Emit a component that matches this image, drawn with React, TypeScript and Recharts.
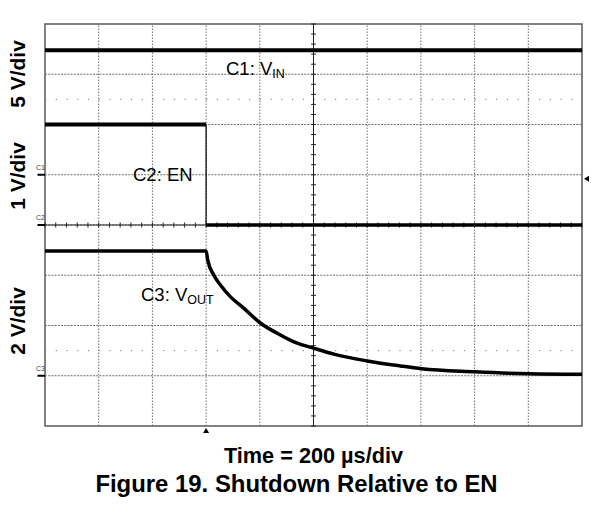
import React from "react";
import {
  LineChart,
  Line,
  XAxis,
  YAxis,
  ReferenceLine,
  ReferenceArea,
  ReferenceDot,
} from "recharts";

// Time axis: 200 µs/div, trigger at t = 0
const timeTicks = [-600, -400, -200, 0, 200, 400, 600, 800, 1000, 1200, 1400];
const gridRows = [0, 1, 2, 3, 4, 5, 6, 7, 8];
const sparseRows = [1.5, 6.5];

// C1: VIN (5 V/div)
const c1Time = [-600, 1400];
const c1Volts = [12.4, 12.4];

// C2: EN (1 V/div)
const c2Time = [-600, 0, 0, 1400];
const c2Volts = [2.0, 2.0, 0, 0];

// C3: VOUT (2 V/div)
const c3Time = [-600, 0, 6, 29, 54, 91, 141, 203, 265, 327, 403, 476, 600, 724, 803, 1001, 1203, 1400];
const c3Volts = [4.97, 4.97, 4.6, 4.0, 3.6, 3.14, 2.68, 2.09, 1.69, 1.35, 1.09, 0.86, 0.59, 0.39, 0.28, 0.16, 0.08, 0.06];

const toRows = (t: number[], v: number[]) => t.map((x, i) => ({ t: x, v: v[i] }));

const c1Data = toRows(c1Time, c1Volts);
const c2All = toRows(c2Time, c2Volts);
const c2High = c2All.slice(0, 2);
const c2Edge = c2All.slice(1, 3);
const c2Low = c2All.slice(2, 4);
const c3Data = toRows(c3Time, c3Volts);

// minor tick positions on the centre crosshair (0.2 div)
const minorT: number[] = [];
for (let k = 0; k <= 50; k++) minorT.push(-600 + 40 * k);
const minorY: number[] = [];
for (let k = 0; k <= 40; k++) minorY.push(0.2 * k);

const FONT = "'Liberation Sans', Arial, Helvetica, sans-serif";
const GRID = "#6e6e6e";

const chanMarker = (label: string) => (props: any) => {
  const { cx, cy } = props;
  if (cx == null || cy == null) return <g />;
  return (
    <g>
      <line x1={cx - 7.5} x2={cx} y1={cy} y2={cy} stroke="#000" strokeWidth={2} />
      <text x={cx - 9} y={cy - 5} fontSize={7} fontFamily={FONT} fill="#444">
        {label}
      </text>
    </g>
  );
};

const trigBottom = (props: any) => {
  const { cx, cy } = props;
  if (cx == null || cy == null) return <g />;
  return <path d={`M ${cx - 3} ${cy + 7} L ${cx + 3} ${cy + 7} L ${cx} ${cy + 2} Z`} fill="#000" />;
};

const trigRight = (props: any) => {
  const { cx, cy } = props;
  if (cx == null || cy == null) return <g />;
  return <path d={`M ${cx + 7} ${cy - 3} L ${cx + 7} ${cy + 3} L ${cx + 2} ${cy} Z`} fill="#000" />;
};

export default function App() {
  return (
    <div style={{ position: "absolute", left: 0, top: 0, width: 608, height: 517, background: "#fff" }}>
      <LineChart
        width={608}
        height={517}
        margin={{ top: 24, left: 45, right: 26, bottom: 91 }}
      >
        <XAxis type="number" dataKey="t" domain={[-600, 1400]} hide allowDataOverflow />
        <YAxis yAxisId="g" type="number" domain={[0, 8]} hide allowDataOverflow />
        <YAxis yAxisId="c1" type="number" domain={[-25, 15]} hide allowDataOverflow />
        <YAxis yAxisId="c2" type="number" domain={[-4, 4]} hide allowDataOverflow />
        <YAxis yAxisId="c3" type="number" domain={[-2, 14]} hide allowDataOverflow />

        {timeTicks.slice(1, -1).map((t) => (
          <ReferenceLine key={"vx" + t} x={t} yAxisId="g" stroke={GRID} strokeWidth={1} strokeDasharray="1.5 1.5" />
        ))}
        {gridRows.slice(1, -1).map((r) => (
          <ReferenceLine key={"hy" + r} y={r} yAxisId="g" stroke={GRID} strokeWidth={1} strokeDasharray="2 1.2" />
        ))}
        {sparseRows.map((r) => (
          <ReferenceLine key={"sp" + r} y={r} yAxisId="g" stroke="#777" strokeWidth={1} strokeDasharray="1.2 9.54" />
        ))}

        {/* centre crosshair */}
        <ReferenceLine x={400} yAxisId="g" stroke="#222" strokeWidth={1} />
        <ReferenceLine y={4} yAxisId="g" stroke="#222" strokeWidth={1} />
        {minorY.map((y) => (
          <ReferenceLine
            key={"my" + y}
            yAxisId="g"
            segment={[{ x: 391, y }, { x: 409, y }]}
            stroke="#222"
            strokeWidth={1}
            ifOverflow="visible"
          />
        ))}
        {minorT.map((t) => (
          <ReferenceLine
            key={"mt" + t}
            yAxisId="g"
            segment={[{ x: t, y: 3.95 }, { x: t, y: 4.05 }]}
            stroke="#222"
            strokeWidth={1}
            ifOverflow="visible"
          />
        ))}

        <ReferenceArea
          x1={-600}
          x2={1400}
          y1={0}
          y2={8}
          yAxisId="g"
          fill="none"
          fillOpacity={0}
          stroke="#5a5a5a"
          strokeWidth={1.5}
          ifOverflow="visible"
        />

        <Line yAxisId="c1" data={c1Data} dataKey="v" type="linear" stroke="#000" strokeWidth={4} dot={false} isAnimationActive={false} />
        <Line yAxisId="c2" data={c2High} dataKey="v" type="linear" stroke="#000" strokeWidth={4} dot={false} isAnimationActive={false} />
        <Line yAxisId="c2" data={c2Edge} dataKey="v" type="linear" stroke="#000" strokeWidth={1.2} dot={false} isAnimationActive={false} />
        <Line yAxisId="c2" data={c2Low} dataKey="v" type="linear" stroke="#000" strokeWidth={3.5} dot={false} isAnimationActive={false} />
        <Line yAxisId="c3" data={c3Data} dataKey="v" type="monotone" stroke="#000" strokeWidth={3.5} dot={false} isAnimationActive={false} />

        <ReferenceDot x={-600} y={0} yAxisId="c1" r={0} ifOverflow="visible" shape={chanMarker("C1")} />
        <ReferenceDot x={-600} y={0} yAxisId="c2" r={0} ifOverflow="visible" shape={chanMarker("C2")} />
        <ReferenceDot x={-600} y={0} yAxisId="c3" r={0} ifOverflow="visible" shape={chanMarker("C3")} />
        <ReferenceDot x={0} y={0} yAxisId="g" r={0} ifOverflow="visible" shape={trigBottom} />
        <ReferenceDot x={1400} y={0.92} yAxisId="c2" r={0} ifOverflow="visible" shape={trigRight} />
      </LineChart>

      <svg
        width={608}
        height={517}
        style={{ position: "absolute", left: 0, top: 0, pointerEvents: "none" }}
      >
        <g fontFamily={FONT} fontWeight="bold" fontSize={21} fill="#000">
          <text x={25} y={74} textAnchor="middle" transform="rotate(-90 25 74)">5 V/div</text>
          <text x={25} y={176} textAnchor="middle" transform="rotate(-90 25 176)">1 V/div</text>
          <text x={25} y={321} textAnchor="middle" transform="rotate(-90 25 321)">2 V/div</text>
          <text x={313.5} y={463} textAnchor="middle" fontSize={21.7}>Time = 200 µs/div</text>
          <text x={296.5} y={492} textAnchor="middle" fontSize={23.9}>Figure 19. Shutdown Relative to EN</text>
        </g>
        <g fontFamily={FONT} fontSize={18.5} fill="#000">
          <text x={226} y={75}>
            C1: V<tspan fontSize={12.5} dy={2.5}>IN</tspan>
          </text>
          <text x={133} y={181}>C2: EN</text>
          <text x={141} y={301}>
            C3: V<tspan fontSize={12.5} dy={3}>OUT</tspan>
          </text>
        </g>
      </svg>
    </div>
  );
}
